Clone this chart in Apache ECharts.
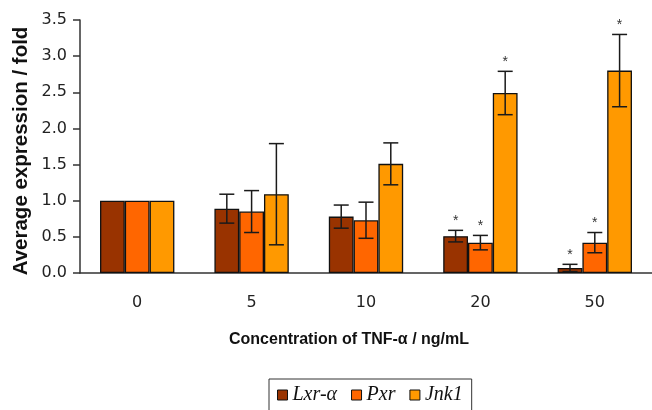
<!DOCTYPE html>
<html><head><meta charset="utf-8">
<script src="https://cdn.jsdelivr.net/npm/echarts@6/dist/echarts.min.js"></script>
<style>html,body{margin:0;padding:0;background:#fff}#c{width:652px;height:410px}</style>
</head><body><div id="c"></div>
<script>
const categories = ['0', '5', '10', '20', '50'];
const seriesNames = ['Lxr-\u03b1', 'Pxr', 'Jnk1'];
const lxrValues = [1.00, 0.89, 0.78, 0.51, 0.07];
const lxrErrors = [0, 0.20, 0.16, 0.08, 0.05];
const lxrSignificant = [0, 0, 0, 1, 1];
const pxrValues = [1.00, 0.85, 0.73, 0.42, 0.42];
const pxrErrors = [0, 0.29, 0.25, 0.10, 0.14];
const pxrSignificant = [0, 0, 0, 1, 1];
const jnkValues = [1.00, 1.09, 1.51, 2.49, 2.80];
const jnkErrors = [0, 0.70, 0.29, 0.30, 0.50];
const jnkSignificant = [0, 0, 0, 1, 1];
const yTicks = [0, 0.5, 1.0, 1.5, 2.0, 2.5, 3.0, 3.5];

const colors = ['#993300', '#FF6600', '#FF9900'];
const allValues = [lxrValues, pxrValues, jnkValues];
const allErrors = [lxrErrors, pxrErrors, jnkErrors];
const allSig = [lxrSignificant, pxrSignificant, jnkSignificant];
const CAT_GAP = 0.35;

const errData = [];
for (let s = 0; s < 3; s++) {
  for (let i = 0; i < categories.length; i++) {
    errData.push([i, allValues[s][i], allErrors[s][i], s, allSig[s][i]]);
  }
}

function renderErr(params, api) {
  const ci = api.value(0), v = api.value(1), e = api.value(2), si = api.value(3), sig = api.value(4);
  const band = api.size([1, 0])[0];
  const bw = band * (1 - CAT_GAP) / 3;
  const cx = api.coord([ci, 0])[0] + (si - 1) * bw;
  const top = api.coord([ci, v + e])[1];
  const bot = api.coord([ci, v - e])[1];
  const children = [];
  const st = { stroke: '#1a1a1a', lineWidth: 1.5 };
  const cap = 7.5;
  if (e > 0) {
    children.push({ type: 'line', shape: { x1: cx, y1: top, x2: cx, y2: bot }, style: st });
    children.push({ type: 'line', shape: { x1: cx - cap, y1: top, x2: cx + cap, y2: top }, style: st });
    children.push({ type: 'line', shape: { x1: cx - cap, y1: bot, x2: cx + cap, y2: bot }, style: st });
  }
  if (sig) {
    children.push({ type: 'text', style: { x: cx, y: top - 2, text: '*', align: 'center', verticalAlign: 'bottom',
      font: '14px "Liberation Sans", Arial, sans-serif', fill: '#333' } });
  }
  return { type: 'group', children: children };
}

const chart = echarts.init(document.getElementById('c'), null, { renderer: 'canvas' });
chart.setOption({
  backgroundColor: '#fff',
  animation: false,
  grid: { left: 80, top: 20, right: -12, bottom: 137, containLabel: false },
  legend: {
    left: 269, top: 379, width: 210,
    data: seriesNames,
    icon: 'rect', itemWidth: 10, itemHeight: 10, itemGap: 14,
    borderColor: '#333', borderWidth: 1, padding: [6, 9, 12, 8],
    itemStyle: { borderColor: '#111', borderWidth: 1 },
    textStyle: { fontFamily: '"Liberation Serif", "Times New Roman", serif', fontStyle: 'italic', fontSize: 20, color: '#111' }
  },
  xAxis: {
    type: 'category', data: categories,
    axisLine: { lineStyle: { color: '#333', width: 1.5 } },
    axisTick: { length: 7, lineStyle: { color: '#333', width: 1.5 } },
    axisLabel: { margin: 22, fontSize: 16, color: '#222', fontFamily: '"DejaVu Sans", sans-serif' }
  },
  yAxis: {
    type: 'value', min: 0, max: 3.5, interval: 0.5,
    splitLine: { show: false },
    axisLine: { show: true, lineStyle: { color: '#333', width: 1.5 } },
    axisTick: { show: true, length: 7, lineStyle: { color: '#333', width: 1.5 } },
    axisLabel: { margin: 13, fontSize: 16, color: '#222', fontFamily: '"DejaVu Sans", sans-serif',
      formatter: v => yTicks.includes(v) ? v.toFixed(1) : '' }
  },
  graphic: [
    { type: 'text', x: 21, y: 151, rotation: Math.PI / 2,
      style: { text: 'Average expression / fold', align: 'center', verticalAlign: 'middle',
        font: 'bold 20.5px "Liberation Sans", Arial, sans-serif', fill: '#111' } },
    { type: 'text', x: 349, y: 340,
      style: { text: 'Concentration of TNF-\u03b1 / ng/mL', align: 'center', verticalAlign: 'middle',
        font: 'bold 16px "Liberation Sans", Arial, sans-serif', fill: '#111' } }
  ],
  series: [
    ...seriesNames.map((n, s) => ({
      name: n, type: 'bar', data: allValues[s], barGap: '0%', barCategoryGap: '35%',
      itemStyle: { color: colors[s], borderColor: '#111', borderWidth: 1.3 }
    })),
    { type: 'custom', renderItem: renderErr, data: errData, encode: { x: 0, y: 1 }, z: 5, silent: true }
  ]
});
</script></body></html>
